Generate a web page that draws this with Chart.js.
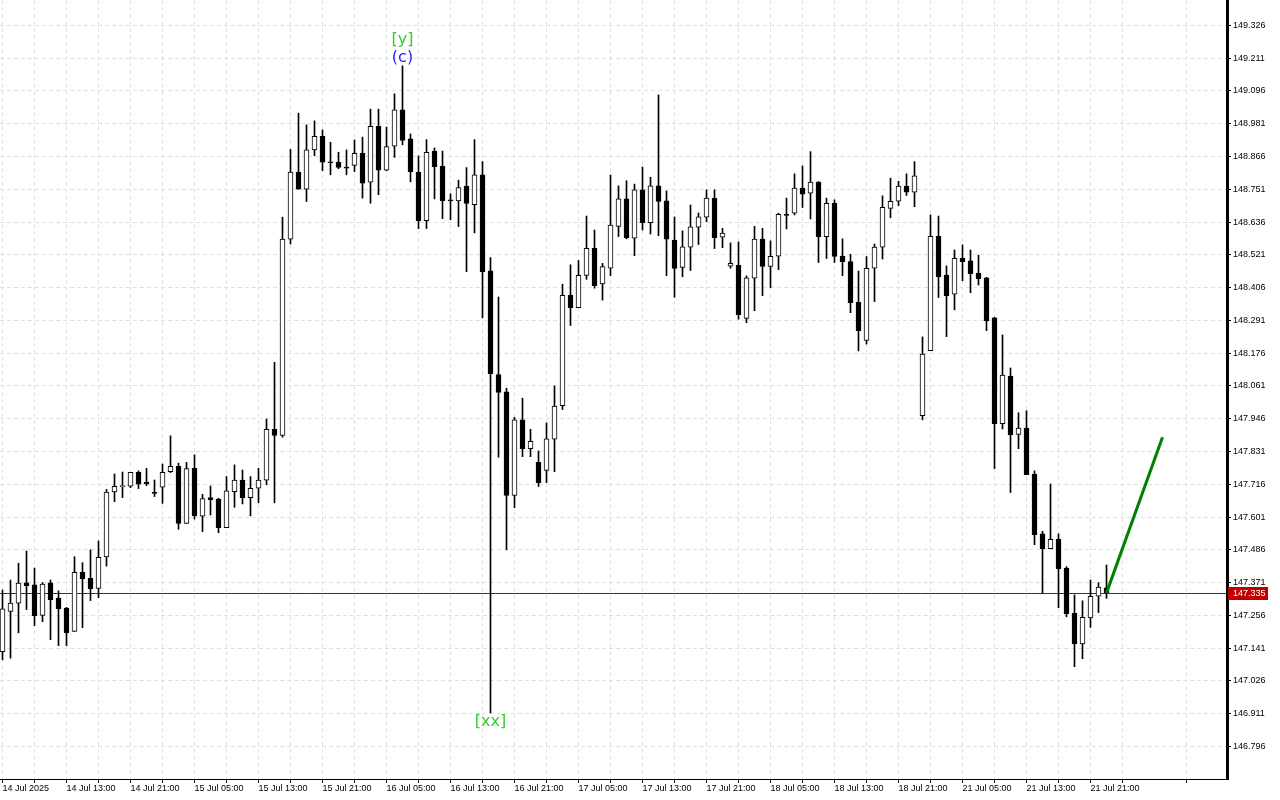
<!DOCTYPE html>
<html>
<head>
<meta charset="utf-8">
<title>USDJPY H1</title>
<script src="https://cdn.jsdelivr.net/npm/chart.js@4.4.1/dist/chart.umd.min.js"></script>
<style>
  html, body { margin: 0; padding: 0; background: #fff; }
  #wrap { width: 1280px; height: 800px; }
</style>
</head>
<body>
<div id="wrap"><canvas id="cv" width="1280" height="800"></canvas></div>
<script>
// ===== Data (H1 candles) =====
const opens = [
  147.129, 147.270, 147.299, 147.370, 147.363, 147.256, 147.370, 147.317, 147.282, 147.200,
  147.407, 147.386, 147.351, 147.461, 147.689, 147.708, 147.709, 147.758, 147.724, 147.687,
  147.706, 147.760, 147.779, 147.579, 147.772, 147.604, 147.669, 147.664, 147.564, 147.690,
  147.731, 147.669, 147.702, 147.730, 147.909, 147.887, 148.576, 148.811, 148.751, 148.889,
  148.937, 148.847, 148.846, 148.829, 148.835, 148.877, 148.776, 148.972, 148.818, 148.902,
  149.030, 148.928, 148.810, 148.641, 148.885, 148.832, 148.713, 148.710, 148.762, 148.697,
  148.802, 148.465, 148.101, 148.040, 147.677, 147.942, 147.841, 147.793, 147.765, 147.874,
  147.992, 148.379, 148.336, 148.449, 148.544, 148.419, 148.474, 148.621, 148.717, 148.579,
  148.749, 148.634, 148.763, 148.710, 148.573, 148.477, 148.548, 148.618, 148.653, 148.720,
  148.583, 148.481, 148.484, 148.298, 148.439, 148.576, 148.480, 148.516, 148.663, 148.667,
  148.755, 148.737, 148.776, 148.585, 148.702, 148.517, 148.497, 148.355, 148.221, 148.474,
  148.548, 148.684, 148.709, 148.762, 148.741, 147.957, 148.185, 148.586, 148.450, 148.383,
  148.510, 148.500, 148.457, 148.440, 148.300, 147.929, 148.096, 147.891, 147.913, 147.752,
  147.542, 147.490, 147.523, 147.422, 147.263, 147.156, 147.247, 147.323, 147.353
];
const highs = [
  147.345, 147.380, 147.439, 147.482, 147.422, 147.371, 147.380, 147.342, 147.284, 147.462,
  147.441, 147.486, 147.517, 147.698, 147.752, 147.759, 147.758, 147.763, 147.772, 147.731,
  147.787, 147.886, 147.790, 147.793, 147.819, 147.681, 147.710, 147.667, 147.743, 147.784,
  147.766, 147.743, 147.772, 147.945, 148.144, 148.653, 148.891, 149.018, 148.977, 148.991,
  148.959, 148.916, 148.881, 148.889, 148.924, 148.934, 149.032, 149.032, 148.969, 149.086,
  149.184, 148.945, 148.868, 148.925, 148.896, 148.885, 148.735, 148.783, 148.827, 148.925,
  148.848, 148.511, 148.373, 148.053, 147.951, 148.018, 147.909, 147.833, 147.931, 148.061,
  148.418, 148.486, 148.501, 148.657, 148.608, 148.491, 148.801, 148.763, 148.781, 148.769,
  148.829, 148.793, 149.082, 148.745, 148.654, 148.605, 148.696, 148.668, 148.749, 148.749,
  148.614, 148.563, 148.566, 148.447, 148.621, 148.614, 148.570, 148.667, 148.720, 148.805,
  148.833, 148.883, 148.778, 148.720, 148.714, 148.577, 148.523, 148.464, 148.515, 148.559,
  148.728, 148.790, 148.779, 148.805, 148.848, 148.233, 148.661, 148.657, 148.482, 148.538,
  148.556, 148.538, 148.520, 148.442, 148.302, 148.240, 148.124, 147.967, 147.974, 147.763,
  147.551, 147.717, 147.542, 147.427, 147.328, 147.307, 147.380, 147.371, 147.433
];
const lows = [
  147.100, 147.106, 147.195, 147.276, 147.220, 147.234, 147.171, 147.150, 147.150, 147.200,
  147.213, 147.308, 147.318, 147.429, 147.655, 147.669, 147.704, 147.701, 147.711, 147.673,
  147.649, 147.757, 147.558, 147.579, 147.594, 147.550, 147.608, 147.546, 147.564, 147.635,
  147.647, 147.605, 147.651, 147.714, 147.651, 147.881, 148.559, 148.751, 148.708, 148.869,
  148.816, 148.802, 148.823, 148.802, 148.813, 148.720, 148.702, 148.732, 148.816, 148.863,
  148.907, 148.777, 148.613, 148.613, 148.717, 148.648, 148.644, 148.620, 148.462, 148.598,
  148.300, 146.914, 147.811, 147.486, 147.634, 147.813, 147.813, 147.708, 147.722, 147.760,
  147.978, 148.273, 148.336, 148.435, 148.404, 148.362, 148.448, 148.585, 148.577, 148.518,
  148.608, 148.594, 148.588, 148.448, 148.372, 148.444, 148.466, 148.557, 148.637, 148.543,
  148.546, 148.474, 148.295, 148.283, 148.325, 148.378, 148.406, 148.469, 148.612, 148.661,
  148.687, 148.647, 148.494, 148.508, 148.494, 148.448, 148.318, 148.184, 148.208, 148.357,
  148.506, 148.651, 148.694, 148.729, 148.690, 147.942, 148.185, 148.371, 148.234, 148.328,
  148.430, 148.388, 148.415, 148.255, 147.771, 147.910, 147.687, 147.841, 147.750, 147.504,
  147.334, 147.490, 147.283, 147.251, 147.076, 147.104, 147.214, 147.266, 147.316
];
const closes = [
  147.279, 147.299, 147.369, 147.360, 147.255, 147.366, 147.311, 147.280, 147.195, 147.407,
  147.385, 147.350, 147.460, 147.689, 147.709, 147.710, 147.758, 147.716, 147.717, 147.684,
  147.758, 147.779, 147.579, 147.771, 147.606, 147.666, 147.662, 147.564, 147.693, 147.731,
  147.669, 147.702, 147.731, 147.909, 147.887, 148.576, 148.811, 148.751, 148.889, 148.937,
  148.846, 148.844, 148.828, 148.825, 148.877, 148.772, 148.972, 148.818, 148.901, 149.030,
  148.922, 148.813, 148.641, 148.881, 148.830, 148.711, 148.710, 148.757, 148.701, 148.802,
  148.462, 148.104, 148.038, 147.677, 147.942, 147.841, 147.867, 147.722, 147.875, 147.990,
  148.379, 148.336, 148.449, 148.544, 148.413, 148.480, 148.625, 148.717, 148.581, 148.749,
  148.634, 148.763, 148.708, 148.576, 148.473, 148.549, 148.619, 148.654, 148.720, 148.581,
  148.597, 148.491, 148.311, 148.440, 148.576, 148.480, 148.516, 148.663, 148.659, 148.755,
  148.734, 148.776, 148.585, 148.702, 148.515, 148.497, 148.353, 148.255, 148.474, 148.548,
  148.688, 148.709, 148.762, 148.741, 148.798, 148.173, 148.586, 148.444, 148.378, 148.509,
  148.497, 148.455, 148.437, 148.290, 147.929, 148.099, 147.890, 147.913, 147.750, 147.539,
  147.490, 147.523, 147.420, 147.262, 147.156, 147.249, 147.323, 147.355, 147.335
];

// time axis: label every 8 bars, grid every 4 bars
const timeLabels = [
  "14 Jul 2025", "14 Jul 13:00", "14 Jul 21:00", "15 Jul 05:00", "15 Jul 13:00", "15 Jul 21:00",
  "16 Jul 05:00", "16 Jul 13:00", "16 Jul 21:00", "17 Jul 05:00", "17 Jul 13:00", "17 Jul 21:00",
  "18 Jul 05:00", "18 Jul 13:00", "18 Jul 21:00", "21 Jul 05:00", "21 Jul 13:00", "21 Jul 21:00"
];
const priceTicks = [
  146.796, 146.911, 147.026, 147.141, 147.256, 147.371, 147.486, 147.601, 147.716, 147.831,
  147.946, 148.061, 148.176, 148.291, 148.406, 148.521, 148.636, 148.751, 148.866, 148.981,
  149.096, 149.211, 149.326
];
const currentPrice = 147.335;

// projection line (bar index, price)
const projX = [138, 145];
const projY = [147.335, 147.881];

// wave labels
const waveText = ["[y]", "(c)", "[xx]"];
const waveBar = [50, 50, 61];
const waveColor = ["#32cd32", "#1e1eff", "#32cd32"];

// ===== Chart =====
const FONT = "'Liberation Sans', Arial, sans-serif";
const BAR_W = 8;           // px per bar
const PLOT_W = 1227;
const X_MIN = -0.3125;

const bodyColor = ctx => closes[ctx.dataIndex] >= opens[ctx.dataIndex] ? "#ffffff" : "#000000";

const priceLine = {
  id: "priceLine",
  beforeDatasetsDraw(chart) {
    const { ctx, chartArea: a, scales: { y } } = chart;
    const py = Math.round(y.getPixelForValue(currentPrice)) + 0.5;
    ctx.save();
    ctx.strokeStyle = "#b40000";
    ctx.lineWidth = 1;
    ctx.beginPath();
    ctx.moveTo(a.left, py);
    ctx.lineTo(a.right, py);
    ctx.stroke();
    ctx.restore();
  },
  afterDraw(chart) {
    const { ctx, chartArea: a, scales: { y } } = chart;
    const py = Math.round(y.getPixelForValue(currentPrice));
    ctx.save();
    ctx.fillStyle = "#c00000";
    ctx.fillRect(a.right + 1, py - 6, 40, 13);
    ctx.fillStyle = "#ffffff";
    ctx.font = "9px " + FONT;
    ctx.textBaseline = "middle";
    ctx.fillText(currentPrice.toFixed(3), a.right + 6, py + 1);
    ctx.restore();
  }
};

const waveLabels = {
  id: "waveLabels",
  afterDatasetsDraw(chart) {
    const { ctx, scales: { x, y } } = chart;
    ctx.save();
    ctx.font = "16px 'DejaVu Sans', sans-serif";
    ctx.textAlign = "center";
    ctx.textBaseline = "middle";
    const off = { "[y]": -26, "(c)": -8, "[xx]": 9 };
    waveText.forEach((t, i) => {
      const k = waveBar[i];
      const base = off[t] < 0 ? highs[k] : lows[k];
      ctx.fillStyle = waveColor[i];
      ctx.fillText(t, x.getPixelForValue(k), y.getPixelForValue(base) + off[t]);
    });
    ctx.restore();
  }
};

new Chart(document.getElementById("cv"), {
  type: "bar",
  data: {
    datasets: [
      {
        type: "line",
        data: projX.map((v, i) => ({ x: v, y: projY[i] })),
        borderColor: "#008000",
        borderWidth: 3,
        pointRadius: 0,
        order: -1
      },
      {
        data: opens.map((o, i) => ({ x: i, y: [o, closes[i]] })),
        backgroundColor: bodyColor,
        borderColor: "#000000",
        borderWidth: 1,
        borderSkipped: false,
        barThickness: 5,
        minBarLength: 1,
        order: 0
      },
      {
        data: highs.map((h, i) => ({ x: i, y: [lows[i], h] })),
        backgroundColor: "#000000",
        borderWidth: 0,
        barThickness: 1,
        order: 1
      }
    ]
  },
  options: {
    responsive: false,
    animation: false,
    events: [],
    layout: { padding: 0 },
    datasets: { bar: { grouped: false } },
    plugins: { legend: { display: false }, tooltip: { enabled: false } },
    scales: {
      x: {
        type: "linear",
        offset: false,
        min: X_MIN,
        max: X_MIN + PLOT_W / BAR_W,
        afterBuildTicks: s => {
          const t = [];
          for (let k = 0; k <= 152; k += 4) t.push({ value: k });
          s.ticks = t;
        },
        afterFit: s => { s.height = 21; s.paddingLeft = 0; s.paddingRight = 0; },
        grid: {
          offset: false,
          color: "#e0e0e0",
          tickLength: 4,
          tickColor: "#000",
          tickBorderDash: []
        },
        border: { display: true, color: "#000", width: 1, dash: [4, 3] },
        ticks: {
          autoSkip: false,
          maxRotation: 0,
          align: "start",
          padding: 0,
          color: "#000",
          font: { family: FONT, size: 9 },
          callback: v => (v % 8 === 0 ? timeLabels[v / 8] : "")
        }
      },
      y: {
        position: "right",
        min: 146.682,
        max: 149.415,
        afterBuildTicks: s => { s.ticks = priceTicks.map(v => ({ value: v })); },
        afterFit: s => { s.width = 53; s.paddingTop = 0; s.paddingBottom = 0; },
        grid: {
          color: "#e0e0e0",
          tickLength: 4,
          tickColor: "#000",
          tickBorderDash: []
        },
        border: { display: true, color: "#000", width: 3, dash: [4, 3] },
        ticks: {
          padding: 2,
          color: "#000",
          font: { family: FONT, size: 9 },
          callback: v => v.toFixed(3)
        }
      }
    }
  },
  plugins: [priceLine, waveLabels]
});
</script>
</body>
</html>
